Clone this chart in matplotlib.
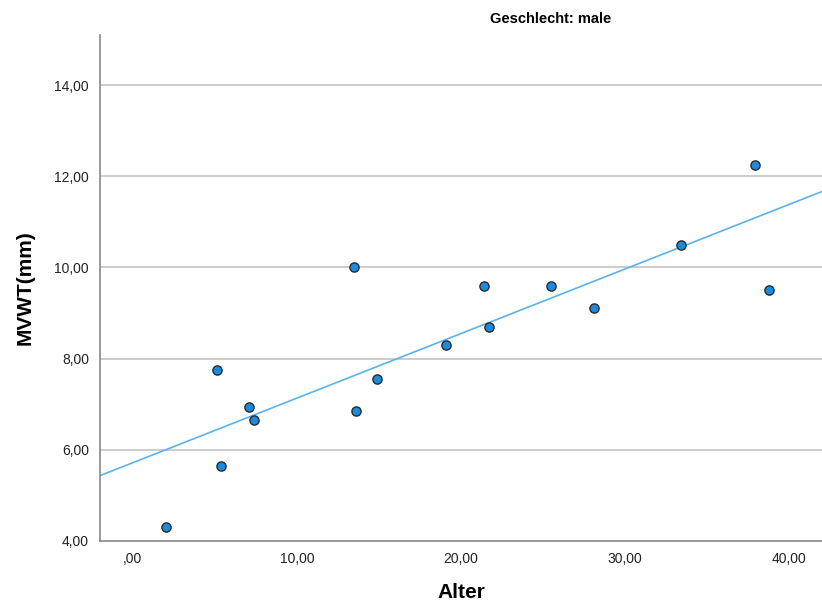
import matplotlib
matplotlib.use("Agg")
import matplotlib.pyplot as plt
import numpy as np

# data (Alter vs MVWT, male)
alter = [2.0, 5.1, 5.4, 7.1, 7.4, 13.5, 13.6, 14.9, 19.1, 21.4, 21.7, 25.5, 28.1, 33.4, 37.9, 38.8]
mvwt = [4.3, 7.75, 5.65, 6.95, 6.65, 10.0, 6.85, 7.55, 8.3, 9.6, 8.7, 9.6, 9.1, 10.5, 12.25, 9.5]
x_ticks = [0, 10, 20, 30, 40]
y_ticks = [4, 6, 8, 10, 12, 14]

plt.rcParams['font.family'] = ['Liberation Sans', 'DejaVu Sans']

fig = plt.figure(figsize=(8.22, 6.05), dpi=100)
ax = fig.add_axes([0.1217, 0.1058, 0.8783, 0.8364])

# grid behind everything
for yv in y_ticks[1:]:
    ax.axhline(yv, color="#c8c8c8", lw=1.3, zorder=0)

xlim = (-2.0, 42.0)
coef = np.polyfit(alter, mvwt, 1)
xs = np.array(xlim)
ax.plot(xs, np.polyval(coef, xs), color="#5ab2ee", lw=1.2, zorder=2)

ax.scatter(alter, mvwt, s=44, facecolor="#1b8be0", edgecolor="#2a2a2a", linewidth=1.0, zorder=3)

ax.set_xlim(*xlim)
ax.set_ylim(4, 15.1)
ax.set_xticks(x_ticks)
ax.set_xticklabels([",00" if v == 0 else f"{v:.2f}".replace(".", ",") for v in x_ticks])
ax.set_yticks(y_ticks)
ax.set_yticklabels([f"{v:.2f}".replace(".", ",") for v in y_ticks])
ax.tick_params(length=0, labelsize=10, colors="#222222", pad=8)

for s in ["top", "right"]:
    ax.spines[s].set_visible(False)
for s in ["left", "bottom"]:
    ax.spines[s].set_color("#888888")
    ax.spines[s].set_linewidth(1.2)

ax.set_xlabel("Alter", fontsize=15, fontweight="bold", labelpad=12)
ax.set_ylabel("MVWT(mm)", fontsize=15, fontweight="bold", labelpad=14)
fig.text(0.67, 0.968, "Geschlecht: male", ha="center", va="center", fontsize=10.5, fontweight="bold")

fig.savefig("out.png", dpi=100)
